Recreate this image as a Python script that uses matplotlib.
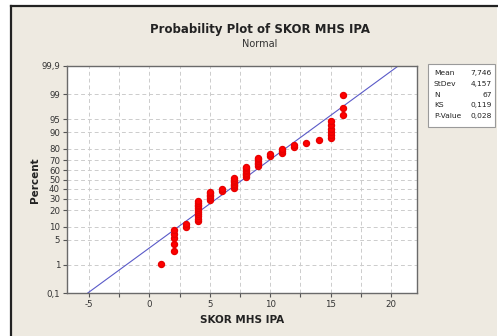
import numpy as np
import matplotlib
matplotlib.use('Agg')
import matplotlib.pyplot as plt
from matplotlib.patches import Rectangle
from matplotlib.lines import Line2D
from statistics import NormalDist

# scores: each value and how many students have it
skor = [1, 2, 3, 4, 5, 6, 7, 8, 9, 10, 11, 12, 13, 14, 15, 16]
jumlah = [1, 5, 2, 11, 6, 2, 8, 8, 6, 2, 3, 2, 1, 1, 6, 3]

pct_ticks = [0.1, 1, 5, 10, 20, 30, 40, 50, 60, 70, 80, 90, 95, 99, 99.9]
x_ticks = [-5, 0, 5, 10, 15, 20]
x_minor = [-2.5, 2.5, 7.5, 12.5, 17.5]

# goodness-of-fit numbers printed in the legend box
ks_stat = 0.119
p_value = 0.028

plt.rcParams['axes.unicode_minus'] = False

nd = NormalDist()
_ppf = np.vectorize(lambda v: nd.inv_cdf(v / 100.0), otypes=[float])
_cdf = np.vectorize(lambda v: nd.cdf(v) * 100.0, otypes=[float])


def to_z(p):
    p = np.clip(np.asarray(p, dtype=float), 1e-6, 100 - 1e-6)
    return _ppf(p)


def from_z(z):
    return _cdf(np.asarray(z, dtype=float))


def koma(v, fmt):
    return (fmt % v).replace('.', ',')


x = np.repeat(skor, jumlah).astype(float)
n = len(x)
mean = x.mean()
sd = x.std(ddof=1)
rank = np.arange(1, n + 1)
pct = (rank - 0.3) / (n + 0.4) * 100  # median ranks like minitab

W, H = 498, 336
fig = plt.figure(figsize=(W / 100, H / 100), dpi=100, facecolor='white')

# beige panel with dark border on top/left
fig.patches.append(Rectangle((11 / W, 0), (497 - 11) / W, (H - 6) / H,
                             transform=fig.transFigure, facecolor='#EEEAE1',
                             edgecolor='none', zorder=-2))
fig.lines.append(Line2D([11 / W, 497 / W], [1 - 6 / H, 1 - 6 / H],
                        transform=fig.transFigure, color='#222222', lw=1.6))
fig.lines.append(Line2D([11 / W, 11 / W], [0, 1 - 6 / H],
                        transform=fig.transFigure, color='#222222', lw=1.6))

ax = fig.add_axes([67 / W, 43 / H, 350 / W, 227 / H])
ax.set_facecolor('white')
ax.set_yscale('function', functions=(to_z, from_z))
ax.set_ylim(0.1, 99.9)
ax.set_xlim(-6.82, 22.15)

ax.set_yticks(pct_ticks)
ax.set_yticklabels([koma(t, '%g') for t in pct_ticks])
ax.set_yticks([], minor=True)
ax.set_xticks(x_ticks)
ax.set_xticks(x_minor, minor=True)

for t in pct_ticks[1:-1]:
    ax.axhline(t, color='#cccccc', lw=0.7, ls=(0, (4, 3)), zorder=1)
for t in x_ticks + x_minor:
    ax.axvline(t, color='#cccccc', lw=0.7, ls=(0, (4, 3)), zorder=1)

ax.tick_params(axis='both', which='both', direction='out', length=3,
               width=0.8, color='#555555', labelsize=6.2, labelcolor='#333333',
               pad=2)
for s in ax.spines.values():
    s.set_color('#6a6a6a')
    s.set_linewidth(1.0)

# fitted normal line
p_line = np.array([0.1, 1, 10, 50, 90, 99, 99.9])
ax.plot(mean + sd * to_z(p_line), p_line, color='#5a5ac8', lw=0.8, zorder=2)

ax.plot(x, pct, 'o', color='#ff0000', mec='#e80000', ms=4.3, zorder=3)

fig.text(260 / W, 1 - 30 / H, 'Probability Plot of SKOR MHS IPA',
         ha='center', va='center', fontsize=8.5, fontweight='bold', color='#222222')
fig.text(260 / W, 1 - 44 / H, 'Normal', ha='center', va='center',
         fontsize=7, color='#333333')
fig.text(35 / W, 1 - 180 / H, 'Percent', ha='center', va='center',
         rotation=90, fontsize=7.5, fontweight='bold', color='#222222')
fig.text(242 / W, 1 - 320 / H, 'SKOR MHS IPA', ha='center', va='center',
         fontsize=7.5, fontweight='bold', color='#222222')

# stats box
fig.patches.append(Rectangle((428 / W, 1 - 127 / H), 67 / W, 63 / H,
                             transform=fig.transFigure, facecolor='white',
                             edgecolor='#9a9a9a', lw=0.8, zorder=1))
rows = [('Mean', koma(mean, '%.3f')), ('StDev', koma(sd, '%.3f')),
        ('N', str(n)), ('KS', koma(ks_stat, '%.3f')),
        ('P-Value', koma(p_value, '%.3f'))]
for i, (lab, val) in enumerate(rows):
    yy = 1 - (73 + i * 10.8) / H
    fig.text(434 / W, yy, lab, ha='left', va='center', fontsize=5.4,
             color='#222222', zorder=2)
    fig.text(492 / W, yy, val, ha='right', va='center', fontsize=5.4,
             color='#222222', zorder=2)

fig.savefig('out.png', dpi=100, facecolor=fig.get_facecolor())
